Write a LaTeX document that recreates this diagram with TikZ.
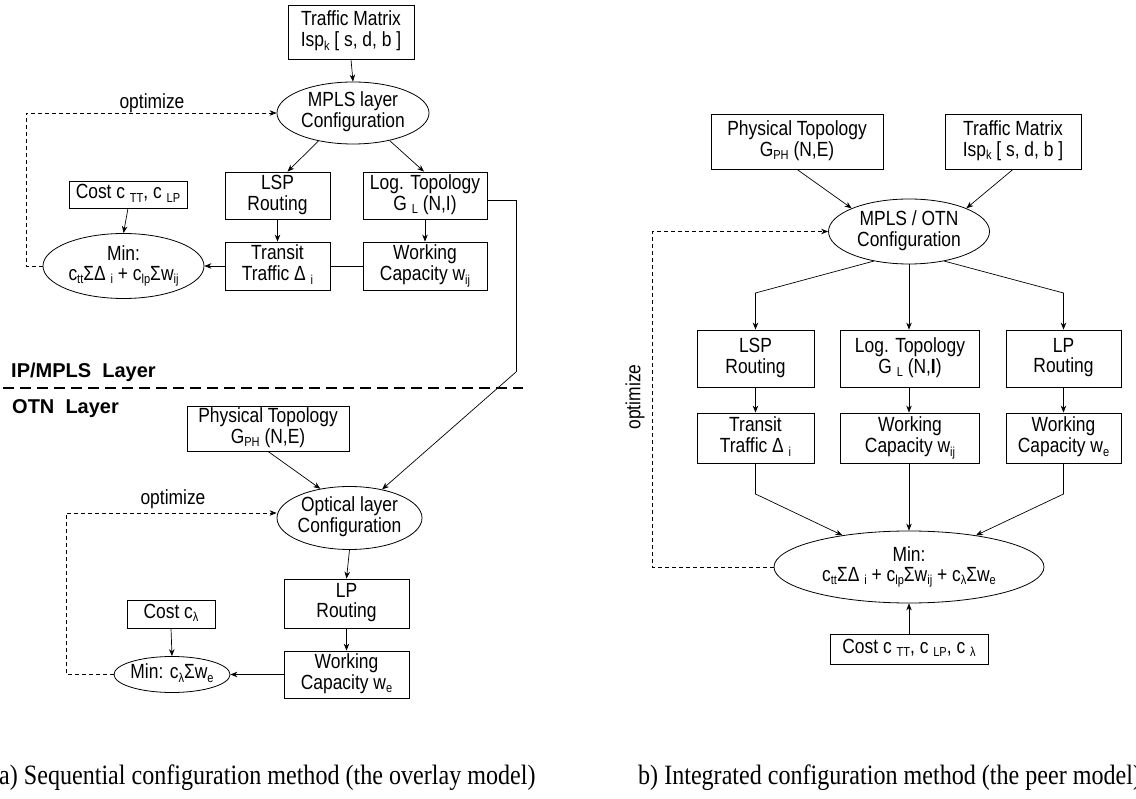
\documentclass[tikz,border=0pt]{standalone}
\usepackage{fontspec}
\setmainfont{Liberation Sans}[FakeStretch=0.85]
\newfontfamily\labfont{Liberation Sans}
\newfontfamily\capfont{Liberation Serif}[FakeStretch=0.86]
\usetikzlibrary{shapes.geometric,arrows.meta}
\newcommand\sub[1]{\raisebox{-3.5pt}{\fontsize{13pt}{13pt}\selectfont #1}}
\newcommand\zb[1]{\makebox[0pt]{\begin{tabular}{@{}c@{}}#1\end{tabular}}}
\tikzset{
  txt/.style={font=\fontsize{20.5pt}{20pt}\selectfont},
  box/.style={txt, draw, line width=0.8pt, inner sep=0pt, rectangle},
  ell/.style={txt, draw, ellipse, line width=0.8pt, inner sep=0pt},
  arr/.style={-{Stealth[length=7pt,width=5.5pt]}, line width=0.7pt},
  ln/.style={line width=0.7pt},
  opt/.style={dash pattern=on 4pt off 3pt, line width=0.7pt},
  optarr/.style={opt, -{Stealth[length=7pt,width=5.5pt]}},
  layerlab/.style={font=\labfont\bfseries\fontsize{20pt}{20pt}\selectfont, inner sep=0pt, anchor=west},
  layerline/.style={dash pattern=on 11pt off 6pt, line width=2.6pt},
  caption/.style={font=\capfont\fontsize{28pt}{28pt}\selectfont, inner sep=0pt, anchor=base west},
}
\begin{document}
\begin{tikzpicture}[x=1pt,y=-1pt]
\useasboundingbox (0,0) rectangle (1136,799);

% ---------------- left: MPLS layer ----------------
\node[box, minimum width=126pt, minimum height=54pt] (tm1) at (351,32) {\zb{Traffic Matrix\\Isp\sub{k} [ s, d, b ]}};
\node[ell, minimum width=152pt, minimum height=62pt] (mp1) at (353,113) {\zb{MPLS layer\\Configuration}};
\node[box, minimum width=105pt, minimum height=47pt] (lsp1) at (277.5,195.5) {\zb{LSP\\Routing}};
\node[box, minimum width=124pt, minimum height=47pt] (log1) at (425,195.5) {\zb{Log. Topology\\G \sub{L} (N,I)}};
\node[box, minimum width=105pt, minimum height=48pt] (tr1) at (277.5,266) {\zb{Transit\\Traffic Δ \sub{i}}};
\node[box, minimum width=124pt, minimum height=48pt] (wc1) at (425,266) {\zb{Working\\Capacity w\sub{ij}}};
\node[box, minimum width=118pt, minimum height=27pt] (cost1) at (128,194.5) {\zb{Cost c \sub{TT}, c \sub{LP}}};
\node[ell, minimum width=161pt, minimum height=65pt] (min1) at (123.5,266) {\zb{Min:\\c\sub{tt}ΣΔ \sub{i} + c\sub{lp}Σw\sub{ij}}};
\node[txt, inner sep=0pt] (o1) at (152,103) {optimize};

\draw[arr] (tm1.south) -- (mp1.north);
\draw[arr] (mp1.219) -- ([xshift=10pt]lsp1.north);
\draw[arr] (mp1.-37) -- ([xshift=-1pt]log1.north);
\draw[arr] (lsp1.south) -- (tr1.north);
\draw[arr] (log1.south) -- (wc1.north);
\draw[ln] (wc1.west) -- (tr1.east);
\draw[arr] (tr1.west) -- (min1.east);
\draw[arr] (cost1.south) -- (min1.north);
\coordinate (d1a) at (26,266);
\coordinate (d1b) at (26,113);
\draw[optarr] (min1.west) -- (d1a) -- (d1b) -- (mp1.west);

% layer separation
\node[layerlab] (ipl) at (11,372) {IP/MPLS\ \ Layer};
\node[layerlab] (otl) at (12,409) {OTN\ \ Layer};
\coordinate (sepa) at (3,388);
\coordinate (sepb) at (523,388);
\draw[layerline] (sepa) -- (sepb);

% ---------------- left: optical layer ----------------
\node[box, minimum width=162pt, minimum height=45pt] (phys1) at (268,428.5) {\zb{Physical Topology\\G\sub{PH} (N,E)}};
\node[ell, minimum width=145pt, minimum height=63pt] (opt1) at (349.5,518) {\zb{Optical layer\\Configuration}};
\node[box, minimum width=125pt, minimum height=49pt] (lp1) at (346.5,603.5) {\zb{LP\\Routing}};
\node[box, minimum width=125pt, minimum height=47pt] (wce1) at (346.5,674.5) {\zb{Working\\Capacity w\sub{e}}};
\node[box, minimum width=88pt, minimum height=28pt] (costl) at (171,614) {\zb{Cost c\sub{λ}}};
\node[ell, minimum width=116pt, minimum height=36pt] (minl) at (172,674.5) {\zb{Min: c\sub{λ}Σw\sub{e}}};
\node[txt, inner sep=0pt] (o2) at (173,499) {optimize};

\coordinate (lg1) at (516,200);
\coordinate (lg2) at (516,372);
\draw[ln] ([yshift=-4.5pt]log1.east) -- (lg1) -- (lg2);
\draw[arr] (lg2) -- (opt1);
\draw[arr] (phys1.south) -- (opt1.135);
\draw[arr] (opt1.south) -- (lp1.north);
\draw[arr] (lp1.south) -- (wce1.north);
\draw[arr] (wce1.west) -- (minl.east);
\draw[arr] (costl.south) -- (minl.north);
\coordinate (d2a) at (66,674.5);
\coordinate (d2b) at (66,513);
\draw[optarr] (minl.west) -- (d2a) -- (d2b) -- ([yshift=5pt]opt1.west);

% ---------------- right: integrated ----------------
\node[box, minimum width=172pt, minimum height=55pt] (phys2) at (797,141.5) {\zb{Physical Topology\\G\sub{PH} (N,E)}};
\node[box, minimum width=136pt, minimum height=55pt] (tm2) at (1013,141.5) {\zb{Traffic Matrix\\Isp\sub{k} [ s, d, b ]}};
\node[ell, minimum width=161pt, minimum height=65pt] (mo2) at (909,231.5) {\zb{MPLS / OTN\\Configuration}};
\node[box, minimum width=117pt, minimum height=57pt] (lsp2) at (755.5,358.5) {\zb{LSP\\Routing}};
\node[box, minimum width=139pt, minimum height=57pt] (log2) at (910,358.5) {\zb{Log. Topology\\G \sub{L} (N,\textbf{I})}};
\node[box, minimum width=115pt, minimum height=57pt] (lp2) at (1063.5,358.5) {\zb{LP\\Routing}};
\node[box, minimum width=117pt, minimum height=50pt] (tr2) at (755.5,438) {\zb{Transit\\Traffic Δ \sub{i}}};
\node[box, minimum width=139pt, minimum height=50pt] (wc2) at (910,438) {\zb{Working\\Capacity w\sub{ij}}};
\node[box, minimum width=115pt, minimum height=50pt] (wce2) at (1063.5,438) {\zb{Working\\Capacity w\sub{e}}};
\node[ell, minimum width=270pt, minimum height=72pt] (min2) at (909,567) {\zb{Min:\\c\sub{tt}ΣΔ \sub{i} + c\sub{lp}Σw\sub{ij} + c\sub{λ}Σw\sub{e}}};
\node[box, minimum width=158pt, minimum height=30pt] (cost2) at (909,649) {\zb{Cost c \sub{TT}, c \sub{LP}, c \sub{λ}}};
\node[txt, inner sep=0pt, rotate=90] (o3) at (635,397) {optimize};

\draw[arr] (phys2.south) -- (mo2.158);
\draw[arr] (tm2.south) -- (mo2.22);
\coordinate (b1) at (755.5,293);
\coordinate (b2) at (1063.5,293);
\draw[arr] (mo2.220) -- (b1) -- (lsp2.north);
\draw[arr] (mo2.south) -- (mo2.south |- log2.north);
\draw[arr] (mo2.-40) -- (b2) -- (lp2.north);
\draw[arr] (lsp2.south) -- (tr2.north);
\draw[arr] (mo2.south |- log2.south) -- (mo2.south |- wc2.north);
\draw[arr] (lp2.south) -- (wce2.north);
\coordinate (c1) at (755.5,494);
\coordinate (c2) at (1063.5,494);
\draw[arr] (tr2.south) -- (c1) -- (min2);
\draw[arr] (mo2.south |- wc2.south) -- (min2.north);
\draw[arr] (wce2.south) -- (c2) -- (min2);
\draw[arr] (cost2.north) -- (min2.south);
\coordinate (d3a) at (652,567);
\coordinate (d3b) at (652,231.5);
\draw[optarr] (min2.west) -- (d3a) -- (d3b) -- (mo2.west);

% captions
\node[caption] (capa) at (-1,784) {a) Sequential configuration method (the overlay model)};
\node[caption] (capb) at (638,784) {b) Integrated configuration method (the peer model)};
\end{tikzpicture}
\end{document}
